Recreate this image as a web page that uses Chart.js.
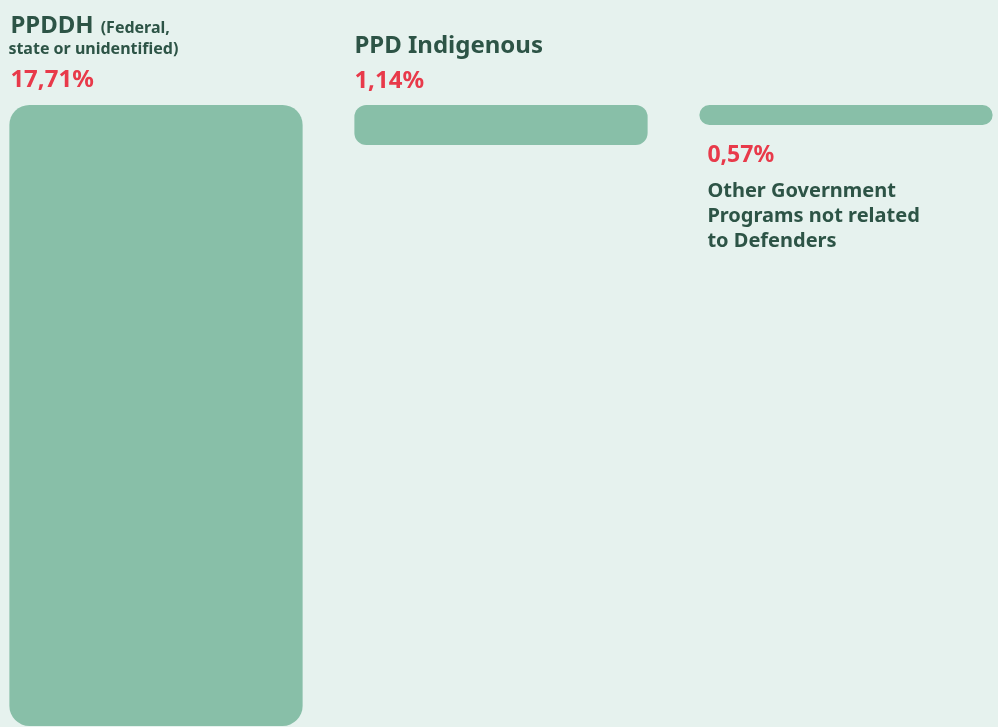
<!DOCTYPE html>
<html>
<head>
<meta charset="utf-8">
<title>Programas de protección</title>
<script src="https://cdn.jsdelivr.net/npm/chart.js@4"></script>
<style>
  html, body { margin: 0; padding: 0; background: #e6f2ee; }
  #wrap { position: relative; width: 998px; height: 727px; }
</style>
</head>
<body>
<div id="wrap"><canvas id="chartPrograms"></canvas></div>
<script>
// datos
const categories = ['PPDDH', 'PPD Indigenous', 'Other Government Programs not related to Defenders'];
const labelLines = [['PPDDH'], ['PPD Indigenous'], ['Other Government', 'Programs not related', 'to Defenders']];
const notes = [['(Federal,', 'state or unidentified)'], [], []];
const values = [17.71, 1.14, 0.57];

const green = '#88bfa8';
const dark = '#2d5446';
const red = '#e83a4a';
const font = '"Noto Sans", sans-serif';

const fmt = v => v.toFixed(2).replace('.', ',') + '%';

// etiquetas sobre / bajo las barras
const barLabels = {
  id: 'barLabels',
  afterDatasetsDraw(chart) {
    const ctx = chart.ctx;
    const meta = chart.getDatasetMeta(0);
    ctx.save();
    ctx.textBaseline = 'alphabetic';
    ctx.textAlign = 'left';
    meta.data.forEach((bar, i) => {
      const left = bar.x - bar.width / 2;
      const top = Math.min(bar.y, bar.base);
      const bottom = Math.max(bar.y, bar.base);
      if (i === 0) {
        ctx.fillStyle = dark;
        ctx.font = `bold 24px ${font}`;
        ctx.fillText(labelLines[i][0], left + 1, 33);
        const w = ctx.measureText(labelLines[i][0]).width;
        ctx.font = `bold 16px ${font}`;
        ctx.fillText(notes[i][0], left + 8 + w, 33);
        ctx.fillText(notes[i][1], left - 1, 54);
        ctx.fillStyle = red;
        ctx.font = `bold 24px ${font}`;
        ctx.fillText(fmt(values[i]), left + 1, top - 18);
      } else if (i === 1) {
        ctx.fillStyle = dark;
        ctx.font = `bold 24px ${font}`;
        ctx.fillText(labelLines[i][0], left, 53);
        ctx.fillStyle = red;
        ctx.fillText(fmt(values[i]), left, top - 17);
      } else {
        ctx.fillStyle = red;
        ctx.font = `bold 23px ${font}`;
        ctx.fillText(fmt(values[i]), left + 8, bottom + 37);
        ctx.fillStyle = dark;
        ctx.font = `bold 20px ${font}`;
        labelLines[i].forEach((line, k) => {
          ctx.fillText(line, left + 8, bottom + 72 + k * 25);
        });
      }
    });
    ctx.restore();
  }
};

const data = {
  labels: categories,
  datasets: [{
    label: 'Programas',
    data: values,
    backgroundColor: green,
    borderRadius: [20, 12, 10],
    borderSkipped: false,
    barPercentage: 0.85,
    categoryPercentage: 1,
    clip: false
  }]
};

const config = {
  type: 'bar',
  data: data,
  options: {
    responsive: true,
    maintainAspectRatio: false,
    animation: false,
    layout: {
      padding: { top: 105, left: 156, right: 152, bottom: 0 }
    },
    scales: {
      x: { display: false, offset: false },
      y: { display: false, reverse: true, min: 0, max: 17.74 }
    },
    plugins: {
      legend: { display: false },
      tooltip: { enabled: false }
    }
  },
  plugins: [barLabels]
};

const node = document.getElementById('chartPrograms');
var chartPrograms = new Chart(node, config);
</script>
</body>
</html>
